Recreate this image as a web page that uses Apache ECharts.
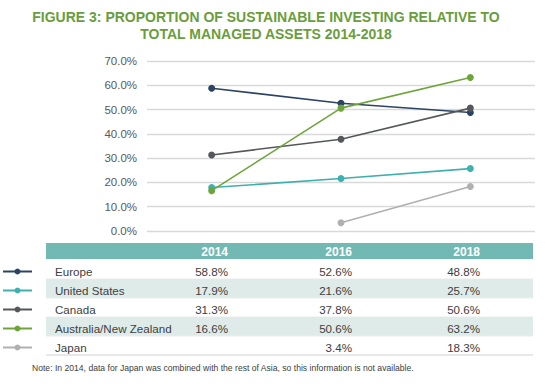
<!DOCTYPE html>
<html>
<head>
<meta charset="utf-8">
<script src="https://cdn.jsdelivr.net/npm/echarts@6/dist/echarts.min.js"></script>
<style>
html,body{margin:0;padding:0;background:#fff;}
#chart{width:546px;height:386px;}
</style>
</head>
<body>
<div id="chart"></div>
<script>
// ---- Data ----
var years = ['2014', '2016', '2018'];
var regions = ['Europe', 'United States', 'Canada', 'Australia/New Zealand', 'Japan'];
var europe = [58.8, 52.6, 48.8];
var unitedStates = [17.9, 21.6, 25.7];
var canada = [31.3, 37.8, 50.6];
var australiaNZ = [16.6, 50.6, 63.2];
var japan = [null, 3.4, 18.3];
var yTicks = [0, 10, 20, 30, 40, 50, 60, 70];
var titleLines = ['FIGURE 3: PROPORTION OF SUSTAINABLE INVESTING RELATIVE TO', 'TOTAL MANAGED ASSETS 2014-2018'];
var noteText = 'Note: In 2014, data for Japan was combined with the rest of Asia, so this information is not available.';

// ---- Styles ----
var colors = ['#2c4463', '#3eb0ae', '#55585b', '#6ea53a', '#b0b0b0'];
var seriesData = [europe, unitedStates, canada, australiaNZ, japan];
var FONT = '"Liberation Sans", Arial, Helvetica, sans-serif';

var chart = echarts.init(document.getElementById('chart'), null, {renderer: 'svg'});

var graphics = [];
// Title
titleLines.forEach(function (t, i) {
  graphics.push({
    type: 'text', x: 266, y: 17 + i * 17,
    style: {text: t, fill: '#6a9d3b', font: 'bold 14px ' + FONT, textAlign: 'center', textVerticalAlign: 'middle'}
  });
});

// Table
var tblLeft = 46, tblRight = 533;
var headerTop = 243, headerH = 16;
var rowTop = 260, rowH = 19;
graphics.push({type: 'rect', shape: {x: tblLeft, y: headerTop, width: tblRight - tblLeft, height: headerH}, style: {fill: '#72b9b4'}});
var colRight = [228, 352, 480];
years.forEach(function (y, j) {
  graphics.push({type: 'text', x: colRight[j], y: headerTop + headerH / 2 + 0.5,
    style: {text: y, fill: '#fff', font: 'bold 12px ' + FONT, textAlign: 'right', textVerticalAlign: 'middle'}});
});
regions.forEach(function (r, i) {
  var top = rowTop + i * rowH;
  if (i % 2 === 1) {
    graphics.push({type: 'rect', shape: {x: tblLeft, y: top, width: tblRight - tblLeft, height: rowH}, style: {fill: '#deebe8'}});
  }
  graphics.push({type: 'line', shape: {x1: tblLeft, y1: top + rowH, x2: tblRight, y2: top + rowH},
    style: {stroke: i === regions.length - 1 ? '#d0d0d0' : '#ececec', lineWidth: 1}});
  var cy = top + rowH / 2 + 2;
  graphics.push({type: 'text', x: 55, y: cy,
    style: {text: r, fill: '#404040', font: '11.6px ' + FONT, textAlign: 'left', textVerticalAlign: 'middle'}});
  seriesData[i].forEach(function (v, j) {
    if (v === null) return;
    graphics.push({type: 'text', x: colRight[j], y: cy,
      style: {text: v.toFixed(1) + '%', fill: '#404040', font: '11.6px ' + FONT, textAlign: 'right', textVerticalAlign: 'middle'}});
  });
  // legend key
  var ky = top + rowH / 2 + 2;
  graphics.push({type: 'line', shape: {x1: 3, y1: ky, x2: 32, y2: ky}, style: {stroke: colors[i], lineWidth: 2}});
  graphics.push({type: 'circle', shape: {cx: 17.5, cy: ky, r: 3}, style: {fill: colors[i]}});
});
// Note
graphics.push({type: 'text', x: 32, y: 368,
  style: {text: noteText, fill: '#404040', font: '8.6px ' + FONT, textAlign: 'left', textVerticalAlign: 'middle'}});

var option = {
  backgroundColor: '#fff',
  animation: false,
  grid: {left: 147, right: 11, top: 61, bottom: 155, containLabel: false},
  xAxis: {
    type: 'category', data: years, boundaryGap: true,
    axisLine: {show: false}, axisTick: {show: false}, axisLabel: {show: false}
  },
  yAxis: {
    type: 'value', min: yTicks[0], max: yTicks[yTicks.length - 1], interval: 10,
    axisLine: {show: false}, axisTick: {show: false},
    axisLabel: {margin: 10, color: '#595959', fontSize: 11.5, fontFamily: FONT,
      formatter: function (v) { return v.toFixed(1) + '%'; }},
    splitLine: {lineStyle: {color: '#d9d9d9', width: 1.3}}
  },
  series: regions.map(function (r, i) {
    return {
      name: r, type: 'line', data: seriesData[i],
      symbol: 'circle', symbolSize: 7, connectNulls: false,
      lineStyle: {color: colors[i], width: 1.6},
      itemStyle: {color: colors[i]}
    };
  }),
  graphic: graphics
};
chart.setOption(option);
</script>
</body>
</html>
